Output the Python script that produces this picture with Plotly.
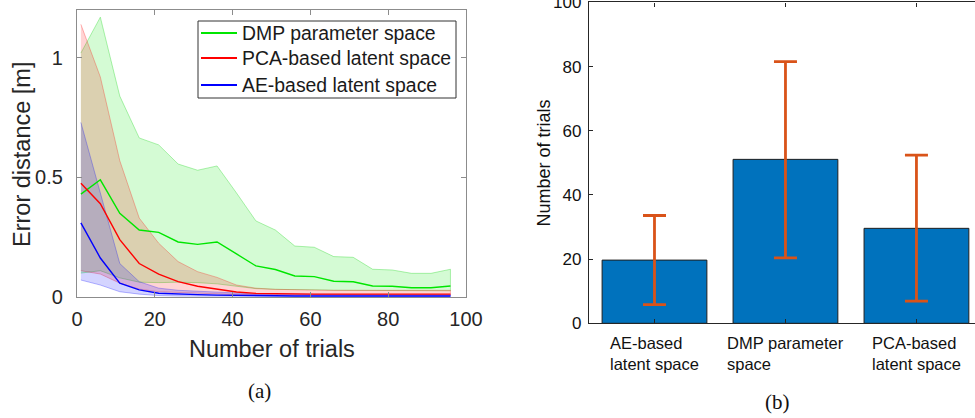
import plotly.graph_objects as go

# ---------------- data: panel (a) ----------------
trials = [1, 6, 11, 16, 21, 26, 31, 36, 41, 46, 51, 56, 61, 66, 71, 76, 81, 86, 91, 96]

dmp_mean = [0.43, 0.49, 0.35, 0.28, 0.27, 0.23, 0.22, 0.23, 0.18, 0.13, 0.115, 0.088, 0.085, 0.066, 0.064, 0.046, 0.045, 0.039, 0.039, 0.046]
dmp_upper = [1.02, 1.17, 0.84, 0.665, 0.636, 0.556, 0.53, 0.548, 0.435, 0.318, 0.28, 0.213, 0.208, 0.169, 0.166, 0.116, 0.113, 0.099, 0.099, 0.116]
dmp_lower = [0.10, 0.11, 0.08, 0.062, 0.06, 0.062, 0.06, 0.055, 0.045, 0.035, 0.032, 0.03, 0.03, 0.028, 0.028, 0.027, 0.027, 0.026, 0.026, 0.026]

pca_mean = [0.476, 0.39, 0.24, 0.14, 0.096, 0.064, 0.045, 0.032, 0.021, 0.015, 0.013, 0.012, 0.012, 0.012, 0.012, 0.012, 0.012, 0.012, 0.012, 0.012]
pca_upper = [1.14, 0.92, 0.57, 0.33, 0.225, 0.148, 0.106, 0.082, 0.05, 0.037, 0.032, 0.03, 0.029, 0.028, 0.028, 0.028, 0.028, 0.028, 0.028, 0.028]
pca_lower = [0.11, 0.096, 0.058, 0.033, 0.022, 0.017, 0.015, 0.013, 0.01, 0.008, 0.007, 0.007, 0.007, 0.007, 0.007, 0.007, 0.007, 0.007, 0.007, 0.007]

ae_mean = [0.31, 0.163, 0.058, 0.03, 0.016, 0.012, 0.01, 0.008, 0.006, 0.005, 0.005, 0.004, 0.004, 0.004, 0.004, 0.004, 0.004, 0.004, 0.004, 0.004]
ae_upper = [0.73, 0.44, 0.14, 0.064, 0.037, 0.028, 0.024, 0.02, 0.016, 0.013, 0.012, 0.011, 0.01, 0.01, 0.01, 0.01, 0.01, 0.01, 0.01, 0.01]
ae_lower = [0.071, 0.05, 0.022, 0.012, 0.006, 0.004, 0.003, 0.002, 0.002, 0.002, 0.002, 0.002, 0.002, 0.002, 0.002, 0.002, 0.002, 0.002, 0.002, 0.002]

series_names = ["DMP parameter space", "PCA-based latent space", "AE-based latent space"]

# ---------------- data: panel (b) ----------------
bar_categories = ["AE-based latent space", "DMP parameter space", "PCA-based latent space"]
bar_labels = ["AE-based<br>latent space", "DMP parameter<br>space", "PCA-based<br>latent space"]
bar_means = [19.7, 51.1, 29.6]
bar_err_plus = [13.9, 30.5, 22.8]
bar_err_minus = [13.9, 30.7, 22.7]

x_ticks_a = [0, 20, 40, 60, 80, 100]
y_ticks_a = [0, 0.5, 1]
y_ticks_b = [0, 20, 40, 60, 80, 100]

# ---------------- styles ----------------
W, H = 975, 418
SANS = "Liberation Sans, Arial, Helvetica, sans-serif"
SERIF = "Liberation Serif, Times New Roman, serif"
line_colors = ["rgb(0,230,0)", "rgb(255,0,0)", "rgb(0,0,255)"]
fill_colors = ["rgba(0,230,0,0.17)", "rgba(255,0,0,0.17)", "rgba(0,0,255,0.17)"]
edge_colors = ["rgba(0,210,0,0.30)", "rgba(255,0,0,0.28)", "rgba(0,0,255,0.28)"]


def px_x(p):
    return p / W


def px_y(p):
    return 1 - p / H


fig = go.Figure()

bands = [(dmp_upper, dmp_lower), (pca_upper, pca_lower), (ae_upper, ae_lower)]
means = [dmp_mean, pca_mean, ae_mean]

for (up, lo), fc, ec in zip(bands, fill_colors, edge_colors):
    fig.add_trace(go.Scatter(
        x=trials + trials[::-1], y=up + lo[::-1],
        fill="toself", fillcolor=fc, mode="lines",
        line=dict(color=ec, width=1), showlegend=False, hoverinfo="skip",
        xaxis="x", yaxis="y"))

for m, name, lc in zip(means, series_names, line_colors):
    fig.add_trace(go.Scatter(
        x=trials, y=m, mode="lines", name=name, showlegend=False,
        line=dict(color=lc, width=1.4), xaxis="x", yaxis="y"))

fig.add_trace(go.Bar(
    x=list(range(len(bar_categories))), y=bar_means, width=0.8,
    marker=dict(color="#0072BD", line=dict(color="#1f1f1f", width=1)),
    error_y=dict(type="data", array=bar_err_plus, arrayminus=bar_err_minus,
                 color="#D95319", thickness=2.8, width=11.5),
    showlegend=False, hovertext=bar_categories, xaxis="x2", yaxis="y2"))

axis_gray = "#8c8c8c"
fig.update_layout(
    width=W, height=H,
    margin=dict(l=0, r=0, t=0, b=0, autoexpand=False),
    paper_bgcolor="white", plot_bgcolor="white",
    font=dict(family=SANS, color="#262626"),
    showlegend=False,
    xaxis=dict(domain=[0.07897, 0.47795], range=[0, 100], tickvals=x_ticks_a,
               showline=True, linecolor=axis_gray, linewidth=1.2, mirror="ticks",
               ticks="inside", ticklen=5, tickcolor=axis_gray, showgrid=False, zeroline=False,
               tickfont=dict(size=20, color="#262626"), ticklabelstandoff=4,
               ticklabeloverflow="allow", automargin=False, anchor="y"),
    yaxis=dict(domain=[0.28947, 0.97608], range=[0, 1.2], tickvals=y_ticks_a,
               ticktext=["0", "0.5", "1"],
               showline=True, linecolor=axis_gray, linewidth=1.2, mirror="ticks",
               ticks="inside", ticklen=5, tickcolor=axis_gray, showgrid=False, zeroline=False,
               tickfont=dict(size=20, color="#262626"), ticklabelstandoff=9,
               ticklabeloverflow="allow", automargin=False, anchor="x"),
    xaxis2=dict(domain=[0.6041, 1.0], range=[-0.5, 2.447],
                tickvals=list(range(len(bar_categories))), showticklabels=False,
                showline=True, linecolor="#262626", linewidth=1.2, mirror="ticks",
                ticks="inside", ticklen=4, tickcolor="#262626", showgrid=False, zeroline=False,
                automargin=False, anchor="y2"),
    yaxis2=dict(domain=[0.22656, 0.99402], range=[0, 100], tickvals=y_ticks_b,
                showline=True, linecolor="#262626", linewidth=1.2, mirror=False,
                ticks="inside", ticklen=4, tickcolor="#262626", showgrid=False, zeroline=False,
                tickfont=dict(size=17, color="#111111"), ticklabelstandoff=3,
                ticklabeloverflow="allow", automargin=False, anchor="x2"),
)

shapes = []
annotations = []

# legend (box, sample lines and labels) for panel (a)
legend_left, legend_top, legend_right, legend_bottom = 198, 21, 456, 98
legend_rows = [33, 58, 85]
shapes.append(dict(type="rect", xref="paper", yref="paper",
                   x0=px_x(legend_left), x1=px_x(legend_right),
                   y0=px_y(legend_bottom), y1=px_y(legend_top),
                   line=dict(color="#333333", width=1), fillcolor="white", layer="above"))
for name, lc, row in zip(series_names, line_colors, legend_rows):
    shapes.append(dict(type="line", xref="paper", yref="paper",
                       x0=px_x(201), x1=px_x(237), y0=px_y(row), y1=px_y(row),
                       line=dict(color=lc, width=2.2), layer="above"))
    annotations.append(dict(x=px_x(240), y=px_y(row), xref="paper", yref="paper",
                            text=name, showarrow=False, xanchor="left", yanchor="middle",
                            font=dict(family=SANS, size=19.4, color="#1a1a1a")))

# axis titles
annotations.append(dict(x=px_x(271.5), y=px_y(349), xref="paper", yref="paper",
                        text="Number of trials", showarrow=False, xanchor="center", yanchor="middle",
                        font=dict(family=SANS, size=23.5, color="#262626")))
annotations.append(dict(x=px_x(22), y=px_y(155), xref="paper", yref="paper",
                        text="Error distance [m]", showarrow=False, textangle=-90,
                        xanchor="center", yanchor="middle",
                        font=dict(family=SANS, size=23.5, color="#262626")))
annotations.append(dict(x=px_x(543), y=px_y(163.5), xref="paper", yref="paper",
                        text="Number of trials", showarrow=False, textangle=-90,
                        xanchor="center", yanchor="middle",
                        font=dict(family=SANS, size=18, color="#111111")))
# category labels (two lines, left-aligned, centred under each bar)
for i, lab in enumerate(bar_labels):
    annotations.append(dict(x=i, xref="x2", y=px_y(332), yref="paper", yanchor="top",
                            xanchor="center", align="left", showarrow=False, text=lab,
                            font=dict(family=SANS, size=16.5, color="#111111")))
# sub-figure captions
annotations.append(dict(x=px_x(259.5), y=px_y(391), xref="paper", yref="paper",
                        text="(a)", showarrow=False, xanchor="center", yanchor="middle",
                        font=dict(family=SERIF, size=21, color="#111111")))
annotations.append(dict(x=px_x(777), y=px_y(402), xref="paper", yref="paper",
                        text="(b)", showarrow=False, xanchor="center", yanchor="middle",
                        font=dict(family=SERIF, size=21, color="#111111")))

fig.update_layout(shapes=shapes, annotations=annotations)

fig.write_html("out.html")
